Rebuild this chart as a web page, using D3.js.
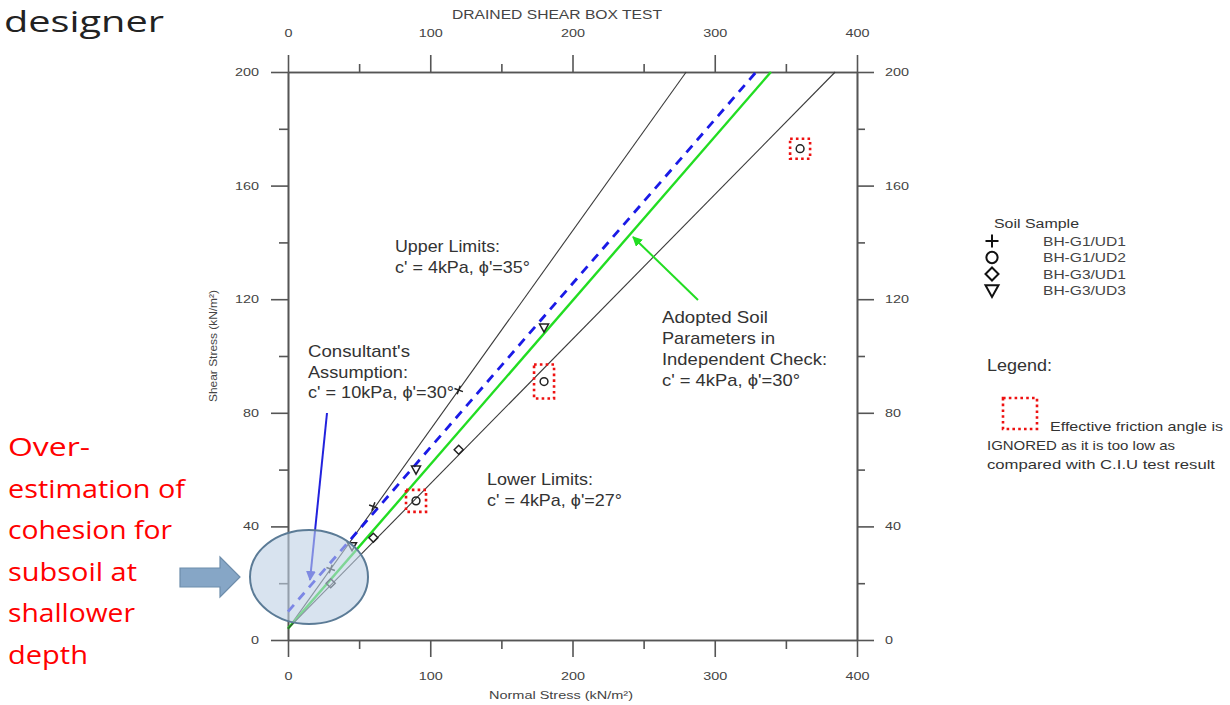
<!DOCTYPE html>
<html><head><meta charset="utf-8">
<script src="https://cdnjs.cloudflare.com/ajax/libs/d3/7.8.5/d3.min.js"></script>
<style>
body{margin:0;background:#fff;}
svg{display:block;}
</style></head>
<body>
<svg id="chart" width="1230" height="705"></svg>
<script>
// ---------- data ----------
const xMajorTicks = [0, 100, 200, 300, 400];
const xMinorTicks = [50, 150, 250, 350];
const yMajorTicks = [0, 40, 80, 120, 160, 200];
const yMinorTicks = [20, 60, 100, 140, 180];

// strength envelopes: cohesion c' (kPa), friction angle phi' (deg)
const envNames = ["Upper Limits", "Consultant", "Adopted", "Lower Limits"];
const envC     = [4, 10, 4, 4];
const envPhi   = [35, 30, 30, 27];

// soil samples
const sampleNames = ["BH-G1/UD1", "BH-G1/UD2", "BH-G3/UD1", "BH-G3/UD3"];
const sampleSymbols = ["plus", "circle", "diamond", "triangle"];
const sampleSigma = [[30, 60, 120], [90, 180, 360], [30, 60, 120], [45, 90, 180]];
const sampleTau   = [[25, 47, 88], [49, 91, 173], [20, 36, 67], [33, 60, 110]];
// points whose friction angle is ignored (red dotted box)
const ignoredSigma = [90, 180, 360];
const ignoredTau   = [49, 91, 173];

// ---------- layout ----------
const svg = d3.select("#chart");
const x = d3.scaleLinear().domain([0, 400]).range([288, 857]);
const y = d3.scaleLinear().domain([0, 200]).range([640, 72]);
const axisCol = "#555";
const txtCol = "#444";
const font = "'Liberation Sans', Arial, sans-serif";
const slideFont = "'Open Sans', sans-serif";

// ---------- page text ----------
svg.append("text").attr("x", 4).attr("y", 32)
  .attr("font-family", slideFont).attr("font-size", 30)
  .attr("textLength", 160).attr("lengthAdjust", "spacingAndGlyphs")
  .attr("fill", "#222").text("designer");

const redLines = ["Over-", "estimation of", "cohesion for", "subsoil at", "shallower", "depth"];
const redWidths = [82, 177, 164, 129, 127, 80];
svg.append("g").selectAll("text").data(redLines).join("text")
  .attr("x", 8).attr("y", (d, i) => 456 + i * 41.6)
  .attr("font-family", slideFont).attr("font-size", 26)
  .attr("textLength", (d, i) => redWidths[i]).attr("lengthAdjust", "spacingAndGlyphs")
  .attr("fill", "#ff0000").text(d => d);

// ---------- axes ----------
function styleAxis(g) {
  g.selectAll(".domain").attr("stroke", axisCol).attr("stroke-width", 1.6);
  g.selectAll(".tick line").attr("stroke", axisCol).attr("stroke-width", 1.6);
  g.selectAll(".tick text").attr("fill", txtCol).attr("font-family", font).attr("font-size", 11)
    .attr("textLength", function () { return this.textContent.length * 8; })
    .attr("lengthAdjust", "spacingAndGlyphs");
}
const axB = svg.append("g").attr("transform", `translate(0,${y(0)})`)
  .call(d3.axisBottom(x).tickValues(xMajorTicks).tickSize(17).tickPadding(15).tickSizeOuter(0));
styleAxis(axB);
const axBm = svg.append("g").attr("transform", `translate(0,${y(0)})`)
  .call(d3.axisBottom(x).tickValues(xMinorTicks).tickSize(9).tickFormat("").tickSizeOuter(0));
styleAxis(axBm);

const axT = svg.append("g").attr("transform", `translate(0,${y(200)})`)
  .call(d3.axisTop(x).tickValues(xMajorTicks).tickSize(17).tickPadding(18).tickSizeOuter(0));
styleAxis(axT);
const axTm = svg.append("g").attr("transform", `translate(0,${y(200)})`)
  .call(d3.axisTop(x).tickValues(xMinorTicks).tickSize(8).tickFormat("").tickSizeOuter(0));
styleAxis(axTm);

const axL = svg.append("g").attr("transform", `translate(${x(0)},0)`)
  .call(d3.axisLeft(y).tickValues(yMajorTicks).tickSize(17).tickPadding(12).tickSizeOuter(0));
styleAxis(axL);
const axLm = svg.append("g").attr("transform", `translate(${x(0)},0)`)
  .call(d3.axisLeft(y).tickValues(yMinorTicks).tickSize(9).tickFormat("").tickSizeOuter(0));
styleAxis(axLm);

const axR = svg.append("g").attr("transform", `translate(${x(400)},0)`)
  .call(d3.axisRight(y).tickValues(yMajorTicks).tickSize(17).tickPadding(11).tickSizeOuter(0));
styleAxis(axR);
const axRm = svg.append("g").attr("transform", `translate(${x(400)},0)`)
  .call(d3.axisRight(y).tickValues(yMinorTicks).tickSize(8).tickFormat("").tickSizeOuter(0));
styleAxis(axRm);

// axis titles
svg.append("text").attr("x", 557).attr("y", 19).attr("text-anchor", "middle")
  .attr("font-family", font).attr("font-size", 12)
  .attr("textLength", 210).attr("lengthAdjust", "spacingAndGlyphs")
  .attr("fill", txtCol).text("DRAINED SHEAR BOX TEST");
svg.append("text").attr("x", 561).attr("y", 699).attr("text-anchor", "middle")
  .attr("font-family", font).attr("font-size", 11.5).attr("fill", txtCol)
  .attr("textLength", 144).attr("lengthAdjust", "spacingAndGlyphs")
  .text("Normal Stress (kN/m\u00B2)");
svg.append("text").attr("transform", "translate(217,346) rotate(-90)").attr("text-anchor", "middle")
  .attr("font-family", font).attr("font-size", 11).attr("fill", txtCol)
  .attr("textLength", 112).attr("lengthAdjust", "spacingAndGlyphs")
  .text("Shear Stress (kN/m\u00B2)");

// ---------- envelopes ----------
const envStyle = [
  {stroke: "#3a3a3a", w: 1.1, dash: null},
  {stroke: "#1a1ae6", w: 2.8, dash: "9,7"},
  {stroke: "#22dd22", w: 2.4, dash: null},
  {stroke: "#3a3a3a", w: 1.1, dash: null}
];
const line = d3.line().x(d => x(d[0])).y(d => y(d[1]));
envNames.forEach((n, i) => {
  const t = Math.tan(envPhi[i] * Math.PI / 180);
  const pts = [[0, envC[i]], [(200 - envC[i]) / t, 200]];
  svg.append("path").attr("d", line(pts)).attr("fill", "none")
    .attr("stroke", envStyle[i].stroke).attr("stroke-width", envStyle[i].w)
    .attr("stroke-dasharray", envStyle[i].dash);
});

// ---------- markers ----------
function markerPath(type, s) {
  const h = s / 2;
  if (type === "plus") return `M${-h},0H${h}M0,${-h}V${h}`;
  if (type === "circle") return d3.symbol(d3.symbolCircle, Math.PI * h * h * 0.75)();
  if (type === "diamond") return `M0,${-h}L${h},0L0,${h}L${-h},0Z`;
  return `M${-h},${-h * 0.8}L${h},${-h * 0.8}L0,${h}Z`;
}
sampleNames.forEach((n, i) => {
  const pts = sampleSigma[i].map((s, j) => [s, sampleTau[i][j]]);
  svg.append("g").selectAll("path").data(pts).join("path")
    .attr("transform", d => `translate(${x(d[0])},${y(d[1])}) rotate(${sampleSymbols[i] === "plus" ? 20 : 0})`)
    .attr("d", markerPath(sampleSymbols[i], 9))
    .attr("fill", "none").attr("stroke", "#222").attr("stroke-width", 1.5);
});

// red dotted boxes
const boxes = ignoredSigma.map((s, i) => [s, ignoredTau[i]]);
const boxH = [22, 34, 20];
svg.append("g").selectAll("rect").data(boxes).join("rect")
  .attr("x", d => x(d[0]) - 10).attr("y", (d, i) => y(d[1]) - boxH[i] / 2)
  .attr("width", 20).attr("height", (d, i) => boxH[i])
  .attr("fill", "none").attr("stroke", "#ee1111").attr("stroke-width", 2.6)
  .attr("stroke-dasharray", "2.6,3.2");

// ---------- annotations ----------
function block(lines, widths, x0, y0, dy, size, col) {
  svg.append("g").selectAll("text").data(lines).join("text")
    .attr("x", x0).attr("y", (d, i) => y0 + i * dy)
    .attr("font-family", font).attr("font-size", size).attr("fill", col || "#333")
    .attr("textLength", (d, i) => widths[i]).attr("lengthAdjust", "spacingAndGlyphs")
    .text(d => d);
}
block(["Upper Limits:", "c' = 4kPa, \u03D5'=35\u00B0"], [105, 135], 395, 252, 21, 17);
block(["Consultant's", "Assumption:", "c' = 10kPa, \u03D5'=30\u00B0"], [102, 100, 146], 308, 357, 20.5, 17);
block(["Adopted Soil", "Parameters in", "Independent Check:", "c' = 4kPa, \u03D5'=30\u00B0"], [106, 113, 165, 138], 662, 323, 21, 17);
block(["Lower Limits:", "c' = 4kPa, \u03D5'=27\u00B0"], [106, 135], 487, 485, 20.5, 17);

// arrows
const defs = svg.append("defs");
function arrowHead(id, col) {
  defs.append("marker").attr("id", id).attr("viewBox", "0 0 10 10").attr("refX", 9).attr("refY", 5)
    .attr("markerWidth", 5).attr("markerHeight", 5).attr("orient", "auto")
    .append("path").attr("d", "M0,0L10,5L0,10Z").attr("fill", col);
}
arrowHead("ag", "#22dd22");
arrowHead("ab", "#2222dd");
svg.append("line").attr("x1", 698).attr("y1", 300).attr("x2", 633).attr("y2", 237)
  .attr("stroke", "#22dd22").attr("stroke-width", 2).attr("marker-end", "url(#ag)");
svg.append("line").attr("x1", 327).attr("y1", 413).attr("x2", 310).attr("y2", 580)
  .attr("stroke", "#2222dd").attr("stroke-width", 2).attr("marker-end", "url(#ab)");

// ellipse and block arrow
svg.append("ellipse").attr("cx", 309).attr("cy", 577).attr("rx", 59).attr("ry", 47)
  .attr("fill", "rgba(190,208,228,0.6)").attr("stroke", "#5b7b96").attr("stroke-width", 2);
svg.append("path").attr("d", "M180,568H220V557L240,577L220,597V587H180Z")
  .attr("fill", "#86a6c6").attr("stroke", "#6d8dab").attr("stroke-width", 1.2);

// ---------- legend ----------
block(["Soil Sample"], [85], 994, 228, 0, 12.5);
sampleNames.forEach((n, i) => {
  const yy = 241 + i * 16.5;
  svg.append("path").attr("transform", `translate(992,${yy})`)
    .attr("d", markerPath(sampleSymbols[i], 13))
    .attr("fill", "none").attr("stroke", "#111").attr("stroke-width", 2);
  svg.append("text").attr("x", 1043).attr("y", yy + 4.5).attr("font-family", font).attr("font-size", 12)
    .attr("textLength", 83).attr("lengthAdjust", "spacingAndGlyphs")
    .attr("fill", "#444").text(n);
});
block(["Legend:"], [65], 987, 371, 0, 17);
svg.append("rect").attr("x", 1003).attr("y", 398).attr("width", 34).attr("height", 31)
  .attr("fill", "none").attr("stroke", "#ee1111").attr("stroke-width", 2.6).attr("stroke-dasharray", "2.6,3.2");
block(["Effective friction angle is"], [173], 1050, 431, 0, 13);
block(["IGNORED as it is too low as", "compared with C.I.U test result"], [188, 228], 987, 450, 19, 13);
</script>
</body></html>
